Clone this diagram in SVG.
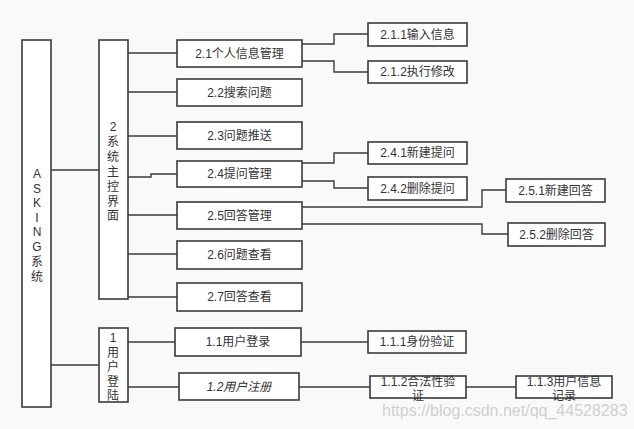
<svg xmlns="http://www.w3.org/2000/svg" width="634" height="429" viewBox="0 0 634 429">
<style>
.b{fill:#fff;stroke:#3a3a3a;stroke-width:1.6}
.t{font-family:"Liberation Sans","Noto Sans CJK SC",sans-serif;font-size:12px;fill:#333;text-anchor:middle;dominant-baseline:central}
.c{fill:none;stroke:#3a3a3a;stroke-width:1.4}
.w{font-family:"Liberation Sans",Arial,sans-serif;font-size:16px;fill:#d0d0d0}
</style>
<rect width="634" height="429" fill="#f9f9f9"/>
<g id="connectors">
<path class="c" d="M51 170H99"/>
<path class="c" d="M51 365H99"/>
<path class="c" d="M128 53H177"/>
<path class="c" d="M128 92H177"/>
<path class="c" d="M128 136H177"/>
<path class="c" d="M128 177H151V174H177"/>
<path class="c" d="M128 215H177"/>
<path class="c" d="M128 254H177"/>
<path class="c" d="M128 297H177"/>
<path class="c" d="M128 342H175"/>
<path class="c" d="M128 387H179"/>
<path class="c" d="M302 44H334V34H368"/>
<path class="c" d="M302 61H334V72H368"/>
<path class="c" d="M302 163H334V153H368"/>
<path class="c" d="M300 181H334V188H368"/>
<path class="c" d="M302 207H482V190H506"/>
<path class="c" d="M302 224H482V234H508"/>
<path class="c" d="M301 342H368"/>
<path class="c" d="M299 387H370"/>
<path class="c" d="M466 387H516"/>
</g>
<g id="asking"><rect class="b" x="22" y="40" width="29" height="367"/>
<text class="t"><tspan x="37" y="174">A</tspan><tspan x="37" y="189">S</tspan><tspan x="37" y="203">K</tspan><tspan x="37" y="218">I</tspan><tspan x="37" y="232">N</tspan><tspan x="37" y="247">G</tspan><tspan x="37" y="262">系</tspan><tspan x="37" y="277">统</tspan></text></g>
<g id="n2"><rect class="b" x="99" y="40" width="29" height="259"/>
<text class="t"><tspan x="113" y="127">2</tspan><tspan x="113" y="142">系</tspan><tspan x="113" y="157">统</tspan><tspan x="113" y="172">主</tspan><tspan x="113" y="187">控</tspan><tspan x="113" y="202">界</tspan><tspan x="113" y="216">面</tspan></text></g>
<g id="n1"><rect class="b" x="99" y="328" width="29" height="74"/>
<text class="t"><tspan x="113" y="338">1</tspan><tspan x="113" y="353">用</tspan><tspan x="113" y="367">户</tspan><tspan x="113" y="382">登</tspan><tspan x="113" y="396">陆</tspan></text></g>
<g id="n2_1"><rect class="b" x="177" y="40" width="125" height="27"/><text class="t" x="239.5" y="53.5">2.1个人信息管理</text></g>
<g id="n2_2"><rect class="b" x="177" y="79" width="125" height="27"/><text class="t" x="239.5" y="92.5">2.2搜索问题</text></g>
<g id="n2_3"><rect class="b" x="177" y="122" width="125" height="27"/><text class="t" x="239.5" y="135.5">2.3问题推送</text></g>
<g id="n2_4"><rect class="b" x="177" y="161" width="125" height="26"/><text class="t" x="239.5" y="174">2.4提问管理</text></g>
<g id="n2_5"><rect class="b" x="177" y="202" width="125" height="27"/><text class="t" x="239.5" y="215.5">2.5回答管理</text></g>
<g id="n2_6"><rect class="b" x="177" y="241" width="125" height="28"/><text class="t" x="239.5" y="255">2.6问题查看</text></g>
<g id="n2_7"><rect class="b" x="177" y="283" width="125" height="28"/><text class="t" x="239.5" y="297">2.7回答查看</text></g>
<g id="n1_1"><rect class="b" x="175" y="328" width="126" height="28"/><text class="t" x="238" y="342">1.1用户登录</text></g>
<g id="n1_2"><rect class="b" x="179" y="373" width="120" height="27"/><text class="t" x="239" y="386.5" font-style="italic">1.2用户注册</text></g>
<g id="n2_1_1"><rect class="b" x="368" y="23" width="99" height="23"/><text class="t" x="417.5" y="34.5">2.1.1输入信息</text></g>
<g id="n2_1_2"><rect class="b" x="368" y="61" width="99" height="22"/><text class="t" x="417.5" y="72">2.1.2执行修改</text></g>
<g id="n2_4_1"><rect class="b" x="368" y="142" width="99" height="22"/><text class="t" x="417.5" y="153">2.4.1新建提问</text></g>
<g id="n2_4_2"><rect class="b" x="368" y="177" width="99" height="23"/><text class="t" x="417.5" y="188.5">2.4.2删除提问</text></g>
<g id="n2_5_1"><rect class="b" x="506" y="179" width="99" height="23"/><text class="t" x="555.5" y="190.5">2.5.1新建回答</text></g>
<g id="n2_5_2"><rect class="b" x="508" y="223" width="97" height="23"/><text class="t" x="556.5" y="234.5">2.5.2删除回答</text></g>
<g id="n1_1_1"><rect class="b" x="368" y="331" width="98" height="22"/><text class="t" x="417" y="342">1.1.1身份验证</text></g>
<g id="n1_1_2"><rect class="b" x="370" y="376" width="96" height="22"/><text class="t"><tspan x="418" y="381.5">1.1.2合法性验</tspan><tspan x="418" y="395.5">证</tspan></text></g>
<g id="n1_1_3"><rect class="b" x="516" y="376" width="96" height="22"/><text class="t"><tspan x="564" y="381.5">1.1.3用户信息</tspan><tspan x="564" y="395.5">记录</tspan></text></g>
<text class="w" x="382" y="416">https://blog.csdn.net/qq_44528283</text>
</svg>
